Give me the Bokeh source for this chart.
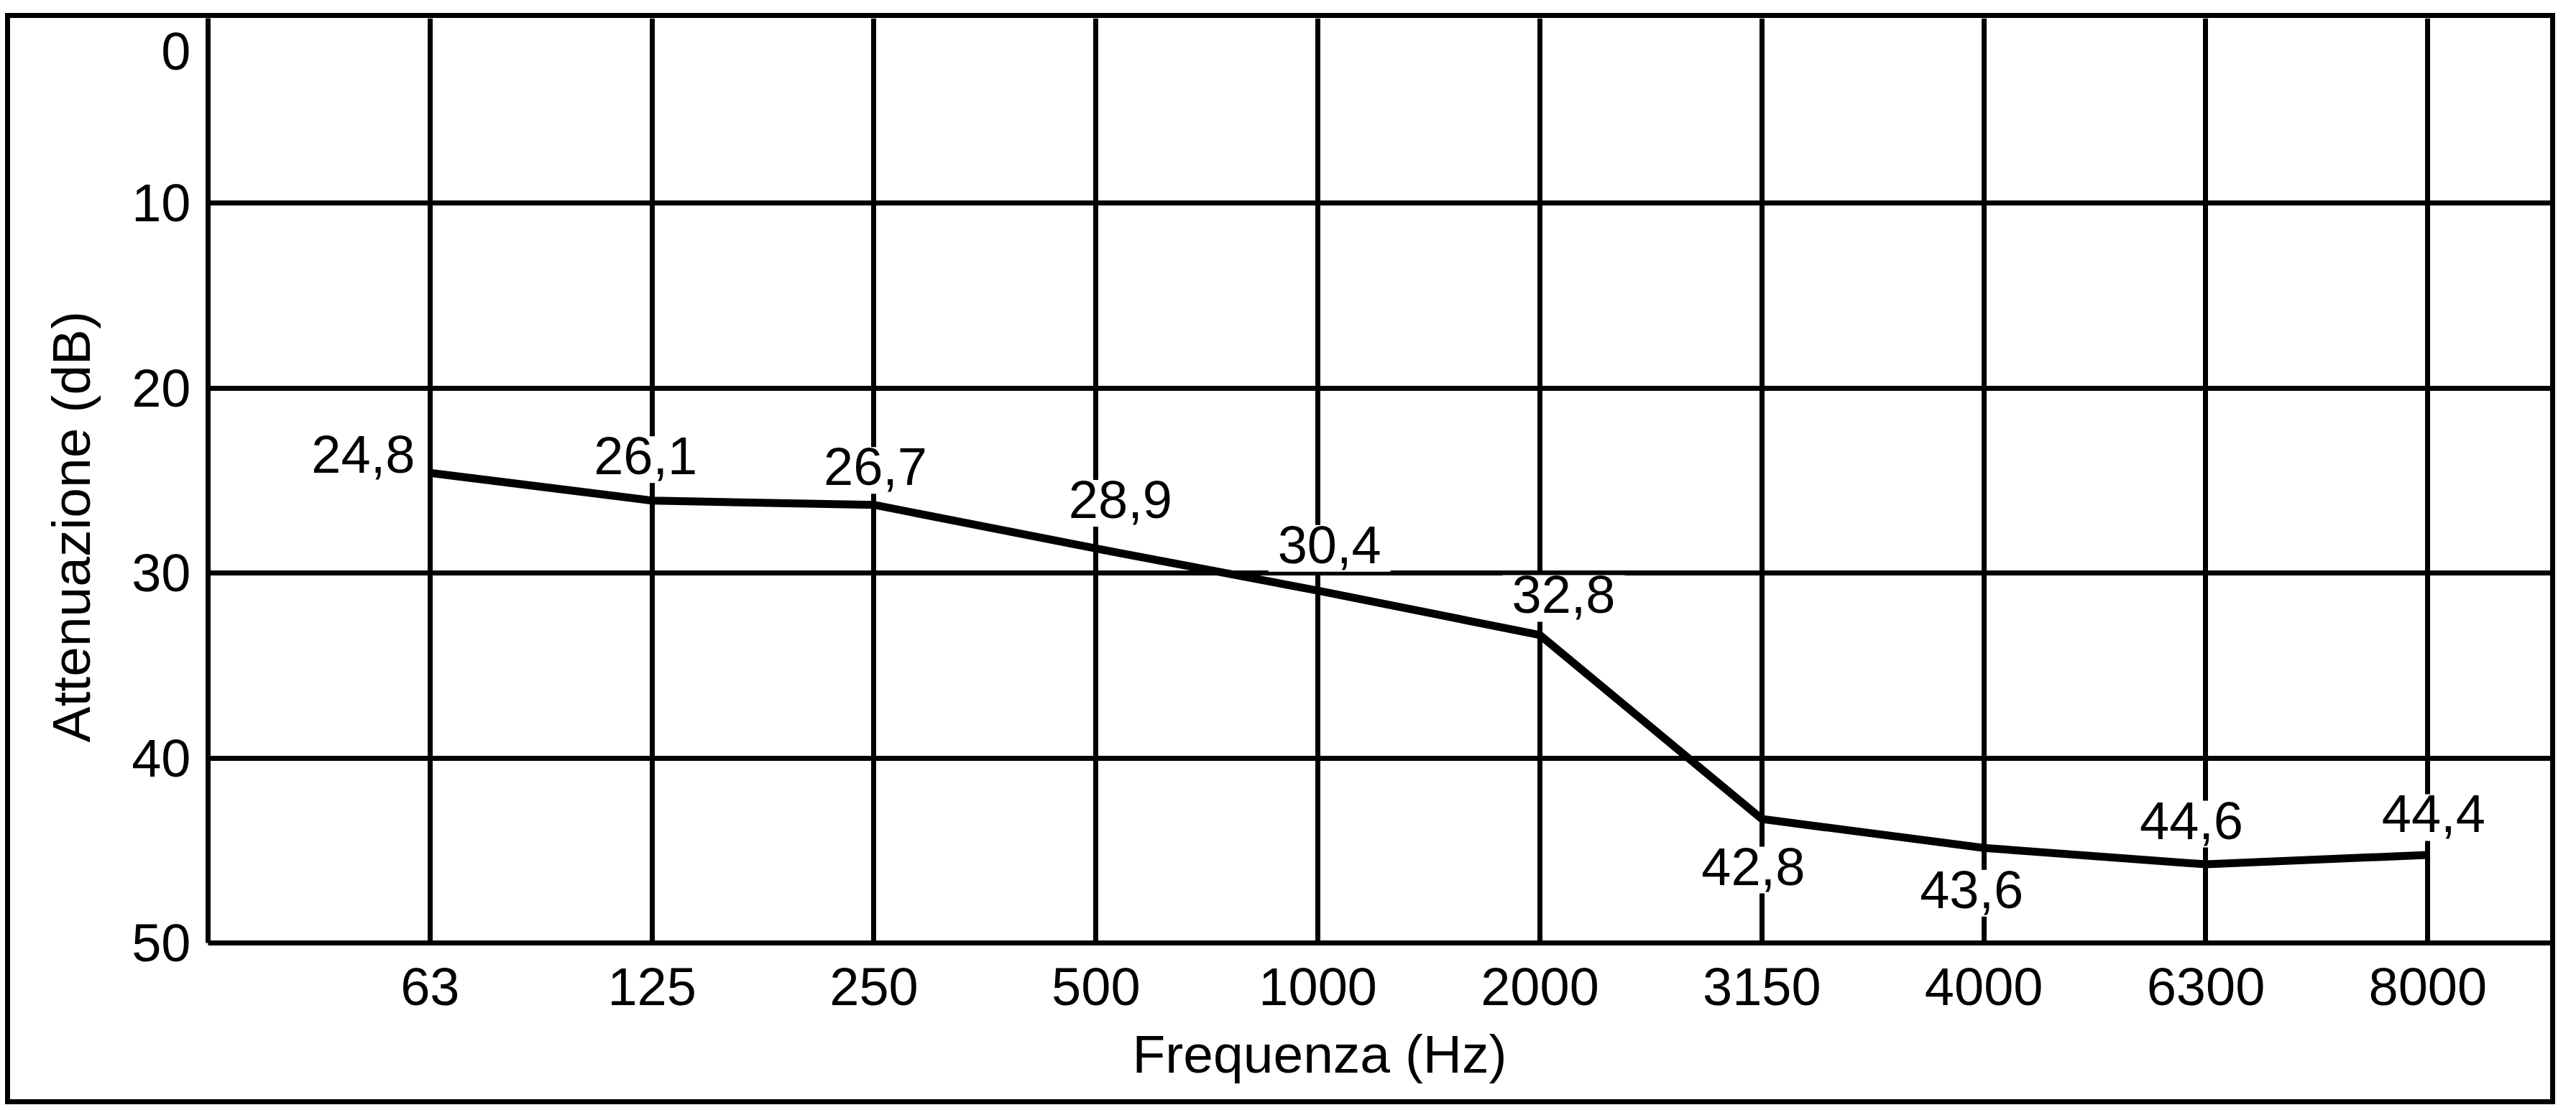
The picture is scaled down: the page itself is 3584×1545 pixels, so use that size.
from bokeh.plotting import figure
from bokeh.models import ColumnDataSource, FixedTicker, Range1d, Title
from bokeh.core.properties import value
from bokeh.embed import file_html
from bokeh.resources import INLINE

# ---- data ----
frequencies = ["63", "125", "250", "500", "1000", "2000", "3150", "4000", "6300", "8000"]
label_values = [24.8, 26.1, 26.7, 28.9, 30.4, 32.8, 42.8, 43.6, 44.6, 44.4]
curve_values = [24.58, 26.08, 26.31, 28.67, 30.95, 33.35, 43.3, 44.86, 45.75, 45.24]
y_ticks = [0, 10, 20, 30, 40, 50]

# ---- layout of the value labels (screen px, relative to the curve point; dy > 0 = up) ----
label_dx = [-93, -9, 2, 34, 16, 33, -12, -17, -20, 8]
label_dy = [21, 57, 48, 63, 59, 51, -71, -63, 56, 52]
ZERO_LABEL_SHIFT = 1.8   # the "0" tick label sits just below the top edge

FONT = "Liberation Sans"
positions = list(range(1, len(frequencies) + 1))
label_text = [f"{v:.1f}".replace(".", ",") for v in label_values]

p = figure(width=3534, height=1505,
           x_range=Range1d(0, 10.598), y_range=Range1d(50, 0),
           output_backend="svg", toolbar_location=None, title=None,
           min_border_left=274, min_border_right=0,
           min_border_top=0, min_border_bottom=232)
p.styles = {"border": "7px solid black", "box-sizing": "content-box",
            "transform": "translate(7px, 18px)"}
p.outline_line_color = None
p.background_fill_color = "white"
p.border_fill_color = "white"

# grid
p.xgrid.ticker = FixedTicker(ticks=positions)
p.ygrid.ticker = FixedTicker(ticks=y_ticks[1:])
for g in (p.xgrid, p.ygrid):
    g.grid_line_color = "black"
    g.grid_line_width = 7
    g.grid_line_alpha = 1.0

# axes
p.xaxis.ticker = FixedTicker(ticks=positions)
p.xaxis.major_label_overrides = {pos: f for pos, f in zip(positions, frequencies)}
ytick_pos = [ZERO_LABEL_SHIFT if t == 0 else t for t in y_ticks]
p.yaxis.ticker = FixedTicker(ticks=ytick_pos)
p.yaxis.major_label_overrides = {pos: str(t) for pos, t in zip(ytick_pos, y_ticks)}
for ax in (p.xaxis, p.yaxis):
    ax.axis_line_color = "black"
    ax.axis_line_width = 7
    ax.major_tick_line_color = None
    ax.minor_tick_line_color = None
    ax.major_tick_out = 0
    ax.major_tick_in = 0
    ax.major_label_text_font = FONT
    ax.major_label_text_font_size = "74px"
    ax.major_label_text_color = "black"
p.xaxis.major_label_standoff = 35
p.yaxis.major_label_standoff = 24

# axis titles, placed off-centre as in the original
p.add_layout(Title(text="Frequenza (Hz)", align="left", offset=1286,
                   vertical_align="top", standoff=46,
                   text_font=FONT, text_font_size="75px",
                   text_font_style="normal", text_color="black"), "below")
p.add_layout(Title(text="Attenuazione (dB)", align="left", offset=279,
                   vertical_align="bottom", standoff=80,
                   text_font=FONT, text_font_size="75px",
                   text_font_style="normal", text_color="black"), "left")

# curve
p.line(positions, curve_values, line_width=11, line_color="black",
       line_join="miter", level="overlay")

# value labels with white boxes that hide the grid
src = ColumnDataSource(dict(x=positions, y=curve_values, text=label_text,
                            dx=label_dx, dy=[-d for d in label_dy]))
tr = p.text(x="x", y="y", text="text", x_offset="dx", y_offset="dy", source=src,
            text_align="center", text_baseline="middle",
            text_font=value(FONT), text_font_size=value("74px"),
            text_color="black", background_fill_color="white")
try:
    tr.glyph.padding = {"left": 13, "right": 13, "top": 2, "bottom": 12}
except Exception:
    try:
        tr.glyph.padding = 10
    except Exception:
        pass

open("out.html", "w").write(file_html(p, INLINE))
